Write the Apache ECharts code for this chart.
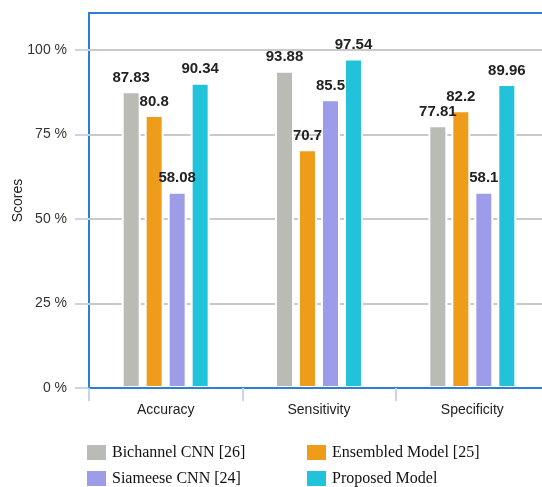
<!DOCTYPE html>
<html>
<head>
<meta charset="utf-8">
<script src="https://cdn.jsdelivr.net/npm/echarts@6/dist/echarts.min.js"></script>
<style>
  html, body { margin: 0; padding: 0; background: #fff; }
  #chart { width: 542px; height: 487px; }
</style>
</head>
<body>
<div id="chart"></div>
<script>
var categories = ['Accuracy', 'Sensitivity', 'Specificity'];
var seriesNames = ['Bichannel CNN [26]', 'Ensembled Model [25]', 'Siameese CNN [24]', 'Proposed Model'];
var bichannel = [87.83, 93.88, 77.81];
var ensembled = [80.8, 70.7, 82.2];
var siameese = [58.08, 85.5, 58.1];
var proposed = [90.34, 97.54, 89.96];
var colors = ['#b8bcb5', '#ef9c1b', '#9c9ce8', '#22c2db'];

var allData = [bichannel, ensembled, siameese, proposed];

// one legend per item so the 2x2 layout lines up like the picture
var legendPos = [
    {left: 85, top: 443},
    {left: 305, top: 443},
    {left: 85, top: 469},
    {left: 305, top: 469}
];

var legends = seriesNames.map(function(name, i) {
    return {
        data: [name],
        left: legendPos[i].left,
        top: legendPos[i].top,
        padding: 0,
        itemWidth: 21,
        itemHeight: 17,
        icon: 'rect',
        selectedMode: false,
        textStyle: {
            fontFamily: '"Liberation Serif", "Times New Roman", serif',
            fontSize: 16,
            color: '#111'
        }
    };
});

var series = seriesNames.map(function(name, i) {
    return {
        name: name,
        type: 'bar',
        data: allData[i],
        barWidth: 19,
        barGap: '21%',
        itemStyle: {
            color: colors[i],
            borderColor: '#fff',
            borderWidth: 2
        },
        label: {
            show: true,
            position: 'top',
            distance: 6,
            fontFamily: 'Arial, "Liberation Sans", sans-serif',
            fontWeight: 'bold',
            fontSize: 15,
            color: '#222'
        }
    };
});

var myChart = echarts.init(document.getElementById('chart'));

var option = {
    animation: false,
    legend: legends,
    grid: {
        left: 89,
        right: -7,
        top: 13,
        bottom: 99,
        outerBoundsMode: 'none',
        containLabel: false,
        show: true,
        borderColor: '#2e7ed4',
        borderWidth: 2,
        backgroundColor: 'transparent'
    },
    xAxis: {
        type: 'category',
        data: categories,
        z: 3,
        axisLine: {
            show: true,
            lineStyle: {color: '#2e7ed4', width: 2}
        },
        axisTick: {
            show: true,
            length: 13,
            lineStyle: {color: '#c5d5ea', width: 2}
        },
        axisLabel: {
            margin: 15,
            fontFamily: 'Arial, "Liberation Sans", sans-serif',
            fontSize: 14,
            color: '#222'
        }
    },
    yAxis: {
        type: 'value',
        min: 0,
        max: 111,
        interval: 25,
        name: 'Scores',
        nameLocation: 'middle',
        nameGap: 64,
        nameMoveOverlap: false,
        nameTextStyle: {
            fontFamily: 'Arial, "Liberation Sans", sans-serif',
            fontSize: 14,
            color: '#222'
        },
        axisLine: {show: false},
        axisTick: {
            show: true,
            length: 14,
            lineStyle: {color: '#c5d5ea', width: 2}
        },
        axisLabel: {
            margin: 22,
            showMaxLabel: false,
            formatter: '{value} %',
            fontFamily: 'Arial, "Liberation Sans", sans-serif',
            fontSize: 14,
            color: '#333'
        },
        splitLine: {
            show: true,
            showMinLine: false,
            showMaxLine: false,
            lineStyle: {color: '#c9c9c9', width: 2}
        }
    },
    series: series
};

myChart.setOption(option);
</script>
</body>
</html>
